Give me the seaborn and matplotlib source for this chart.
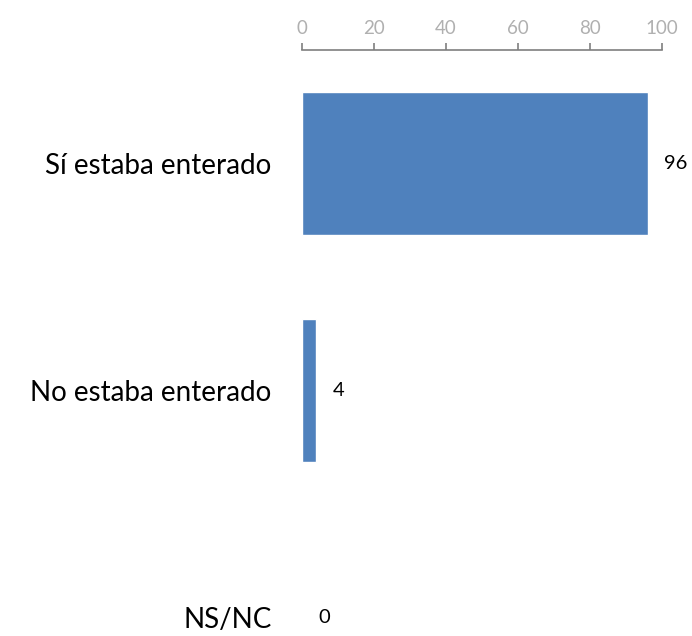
import pandas as pd
import seaborn as sns
import matplotlib.pyplot as plt

# Data
categories = ["Sí estaba enterado", "No estaba enterado", "NS/NC"]
values = [96, 4, 0]
ticks = [0, 20, 40, 60, 80, 100]

df = pd.DataFrame({"Respuesta": categories, "Porcentaje": values})

sns.set_style("white")
plt.rcParams["font.family"] = ["Lato", "DejaVu Sans"]

fig = plt.figure(figsize=(6.92, 6.36), dpi=100)
ax = fig.add_axes([0.4364, 0.0, 0.5202, 0.9214])

sns.barplot(data=df, x="Porcentaje", y="Respuesta", orient="h",
            color="#4F81BD", saturation=1, width=0.63, ax=ax)

ax.set_xlim(0, 100)
ax.set_ylim(2.08, -0.5)
ax.set_xticks(ticks)
ax.xaxis.tick_top()
ax.tick_params(axis="x", direction="out", length=5, width=1.2, color="#7F7F7F",
               pad=4.5, labelsize=13.5, labelcolor="#B0B0B0")
ax.tick_params(axis="y", length=0, pad=22, labelsize=20, labelcolor="black")
ax.set_xlabel("")
ax.set_ylabel("")

for s in ["right", "bottom", "left"]:
    ax.spines[s].set_visible(False)
ax.spines["top"].set_color("#7F7F7F")
ax.spines["top"].set_linewidth(1.2)

# Value labels next to the bars
for i, v in enumerate(values):
    ax.annotate(str(v), xy=(v, i), xytext=(12, 0), textcoords="offset points",
                va="center", ha="left", fontsize=14.5, color="black")

plt.savefig("out.png", dpi=100)
